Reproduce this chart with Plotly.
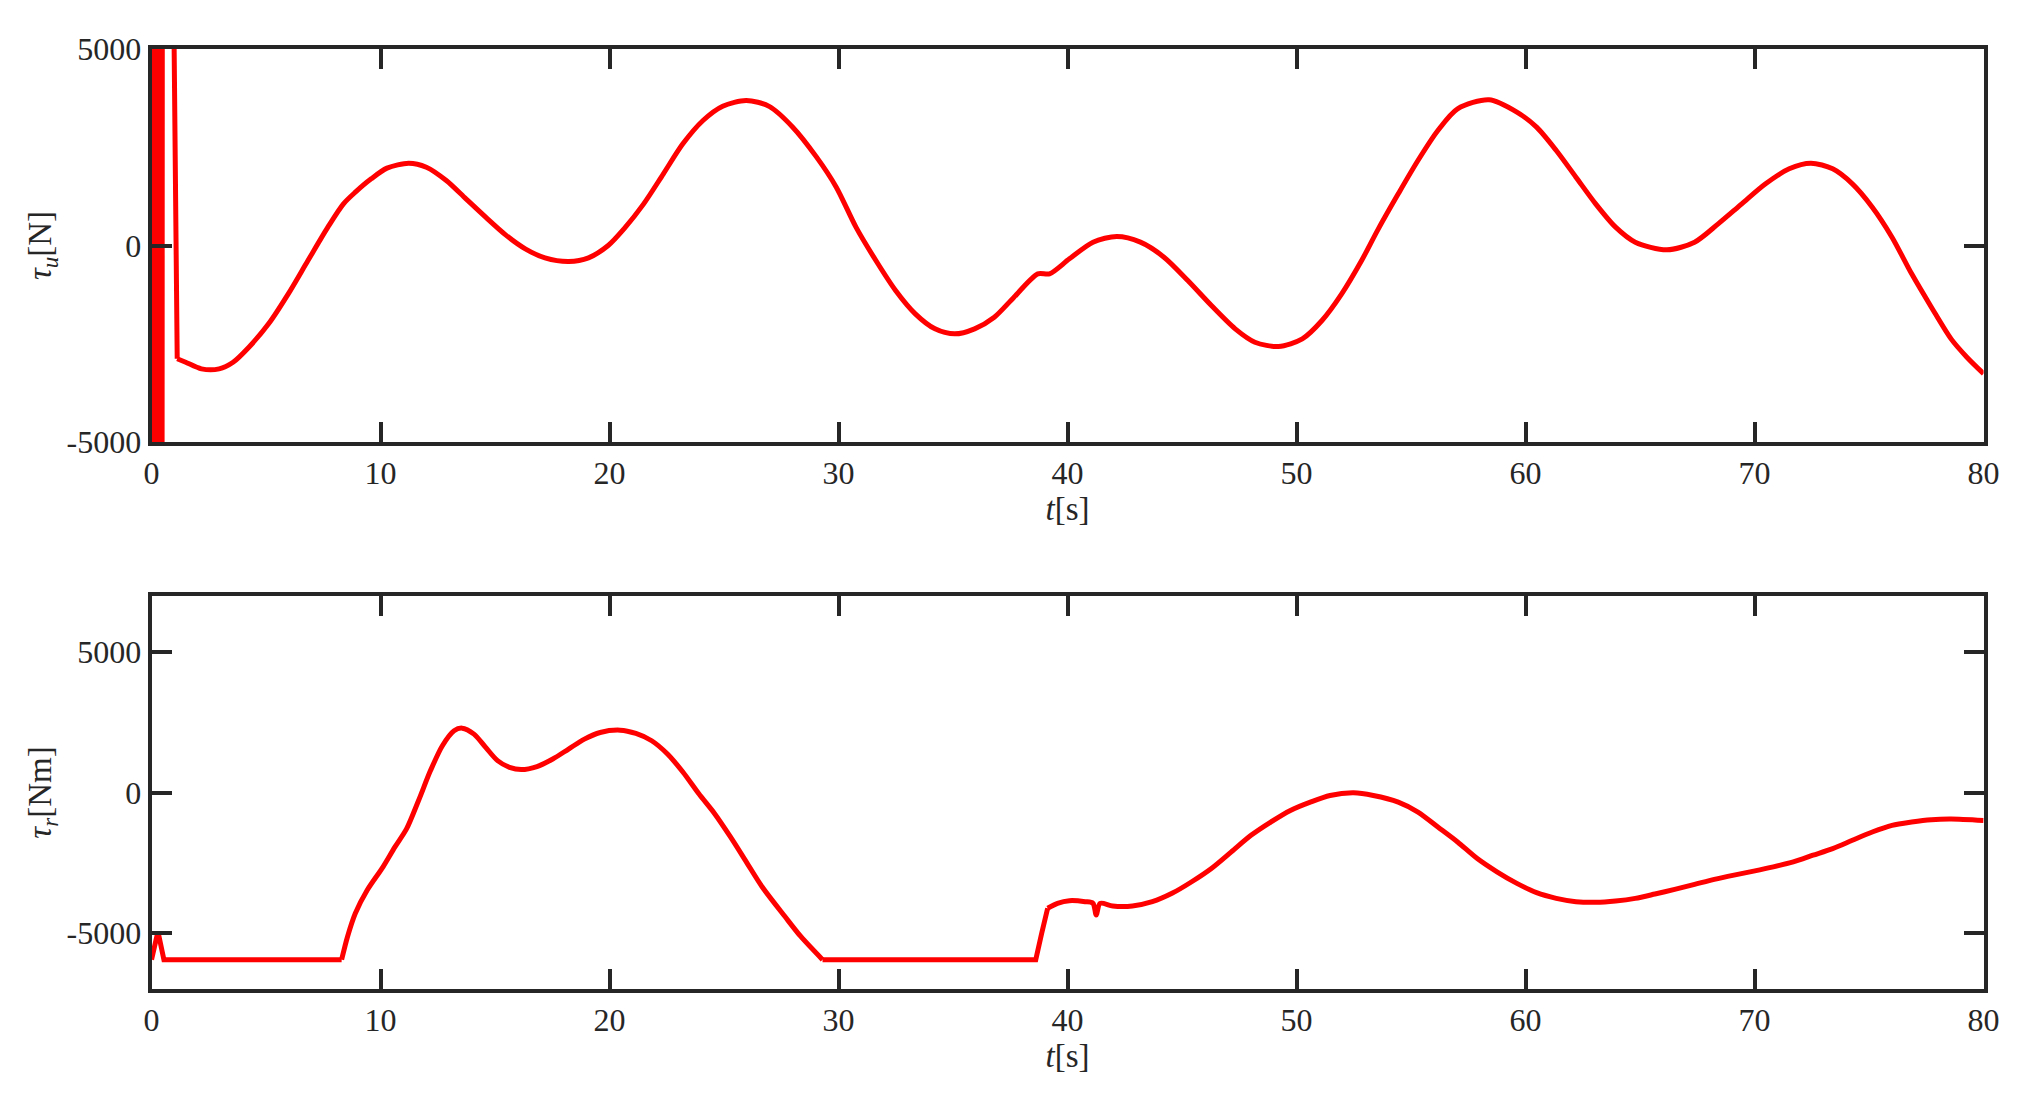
import plotly.graph_objects as go
from plotly.subplots import make_subplots

# top panel: tau_u [N]
# start-up chatter (saturated) and the drop, drawn as straight segments
t_u_start = [0.0, 0.02, 0.04, 0.06, 0.08, 0.10, 0.12, 0.14, 0.16, 0.18, 0.20, 0.22,
             0.24, 0.26, 0.28, 0.30, 0.32, 0.34, 0.36, 0.38, 0.40, 0.42, 0.44, 0.46,
             0.47, 0.97, 1.12]
tau_u_start = [6000, -6000, 6000, -6000, 6000, -6000, 6000, -6000, 6000, -6000, 6000, -6000,
               6000, -6000, 6000, -6000, 6000, -6000, 6000, -6000, 6000, -6000, 6000, -6000,
               6000, 6000, -2880]
# smooth part
t_u = [1.12, 1.49, 2.18, 2.95, 3.56, 4.25, 5.11, 5.97, 6.83, 7.70,
       8.38, 8.90, 9.59, 10.28, 11.23, 12.0, 12.87, 13.73, 14.59, 15.46, 16.32,
       17.18, 18.22, 19.08, 19.94, 20.63, 21.49, 22.35, 23.2, 24.08, 24.94,
       25.97, 26.97, 28.0, 29.04, 29.9, 30.76, 31.63, 32.49, 33.35, 34.21,
       35.07, 35.94, 36.8, 37.66, 38.7, 39.21, 40.08, 41.11, 42.15, 43.18,
       44.21, 45.25, 46.28, 47.32, 48.18, 49.21, 50.25, 51.11, 51.97, 52.84,
       53.53, 54.44, 55.3, 56.17, 57.03, 58.41, 59.62, 60.48, 61.34, 62.2,
       63.06, 63.93, 64.79, 66.17, 67.38, 68.41, 69.44, 70.48, 71.51, 72.46,
       73.41, 74.27, 75.14, 76.0, 76.86, 77.72, 78.58, 79.27, 80.0]
tau_u = [-2880, -2969, -3138, -3138, -2969, -2587, -1993, -1230, -382, 467,
         1060, 1357, 1696, 1968, 2095, 1993, 1654, 1187, 721, 271, -85,
         -314, -407, -314, 0, 424, 1060, 1824, 2587, 3181, 3545,
         3690, 3540, 3011, 2248, 1484, 467, -382, -1145, -1739, -2120,
         -2248, -2120, -1824, -1315, -721, -721, -339, 85, 229, 85,
         -297, -891, -1527, -2120, -2460, -2570, -2375, -1908, -1230, -382,
         380, 1315, 2163, 2926, 3478, 3707, 3393, 3011, 2417, 1739,
         1060, 467, 85, -110, 85, 551, 1060, 1569, 1951, 2095,
         1951, 1569, 975, 212, -721, -1569, -2375, -2841, -3260]

# bottom panel: tau_r [Nm]
t_r_sat1 = [0.0, 0.28, 0.54, 8.3]
tau_r_sat1 = [-5957, -4953, -5957, -5957]
t_r_rise1 = [8.3, 8.56, 8.9, 9.42, 10.11, 10.63, 11.14, 11.66, 12.18,
             12.7, 13.21, 13.56, 14.08, 14.59, 15.11, 15.63, 16.14, 16.83, 17.52,
             18.21, 18.9, 19.59, 20.46, 21.15, 21.84, 22.53, 23.21, 23.9, 24.59,
             25.28, 25.97, 26.66, 27.66, 28.35, 29.3]
tau_r_rise1 = [-5957, -5130, -4302, -3475, -2648, -1939, -1288, -284, 780,
               1667, 2199, 2293, 2080, 1608, 1135, 898, 816, 922, 1194,
               1548, 1903, 2139, 2222, 2104, 1844, 1371, 721, -47, -756,
               -1584, -2470, -3357, -4421, -5130, -5957]
t_r_sat2 = [29.3, 38.61, 38.87, 39.13]
tau_r_sat2 = [-5957, -5957, -5012, -4125]
t_r_rise2 = [39.13, 39.56, 40.08, 40.77, 41.11, 41.25, 41.42, 41.97, 42.83, 43.7,
             44.56, 45.42, 46.28, 47.15, 48.01, 48.87, 49.73, 50.6, 51.46, 52.49,
             53.35, 54.44, 55.3, 56.17, 57.03, 57.89, 58.75, 59.62, 60.48, 61.34,
             62.2, 63.06, 63.93, 64.79, 65.65, 66.51, 67.38, 68.24, 69.1, 69.96,
             70.82, 71.69, 72.55, 73.41, 74.27, 75.14, 76.0, 76.86, 77.72, 78.58,
             80.0]
tau_r_rise2 = [-4125, -3948, -3853, -3889, -3948, -4362, -3948, -4042, -4042, -3889,
               -3593, -3180, -2707, -2116, -1525, -1052, -638, -343, -106, -12,
               -106, -343, -697, -1229, -1761, -2352, -2825, -3239, -3570, -3771,
               -3889, -3912, -3865, -3771, -3617, -3452, -3274, -3097, -2943, -2801,
               -2648, -2470, -2234, -1998, -1702, -1407, -1170, -1052, -969, -946,
               -1000]

x_ticks = [0, 10, 20, 30, 40, 50, 60, 70, 80]
y_ticks = [-5000, 0, 5000]
y_ticktext = ["-5000", "0", "5000"]

FONT = "Liberation Serif"
AX = "#262626"
RED = "#ff0000"

fig = make_subplots(rows=2, cols=1)


def add_line(x, y, row, smooth):
    line = dict(color=RED, width=5, simplify=False)
    if smooth:
        line.update(shape="spline", smoothing=0.8)
    fig.add_trace(go.Scatter(x=x, y=y, mode="lines", line=line), row=row, col=1)


add_line(t_u_start, tau_u_start, 1, False)
add_line(t_u, tau_u, 1, True)
add_line(t_r_sat1, tau_r_sat1, 2, False)
add_line(t_r_rise1, tau_r_rise1, 2, True)
add_line(t_r_sat2, tau_r_sat2, 2, False)
add_line(t_r_rise2, tau_r_rise2, 2, True)

axis_style = dict(showline=True, linewidth=4, linecolor=AX, mirror="ticks",
                  ticks="inside", ticklen=20, tickwidth=4, tickcolor=AX,
                  showgrid=False, zeroline=False, automargin=False,
                  tickfont=dict(family=FONT, size=32, color=AX))

fig.update_xaxes(range=[0, 80], tickvals=x_ticks, ticklabelstandoff=0, **axis_style)
fig.update_yaxes(tickvals=y_ticks, ticktext=y_ticktext, ticklabelstandoff=0, **axis_style)

xtitle = dict(text="<i>t</i>[s]", font=dict(family=FONT, size=33, color=AX), standoff=6)
fig.update_xaxes(title=xtitle)

fig.update_yaxes(range=[-5000, 5000], row=1, col=1,
                 title=dict(text="<i>τ<sub>u</sub></i>[N]", standoff=6,
                            font=dict(family=FONT, size=33, color=AX)))
fig.update_yaxes(range=[-7000, 7000], row=2, col=1,
                 title=dict(text="<i>τ<sub>r</sub></i>[Nm]", standoff=6,
                            font=dict(family=FONT, size=33, color=AX)))

# page body adds an 8 px offset, domains are set for that
fig.update_layout(
    width=2019, height=1093, showlegend=False,
    paper_bgcolor="white", plot_bgcolor="white",
    margin=dict(l=0, r=0, t=0, b=0),
    xaxis=dict(domain=[0.0711, 0.9785]),
    xaxis2=dict(domain=[0.0711, 0.9785]),
    yaxis=dict(domain=[0.6029, 0.9625]),
    yaxis2=dict(domain=[0.1025, 0.4620]),
)

fig.write_html("out.html")
